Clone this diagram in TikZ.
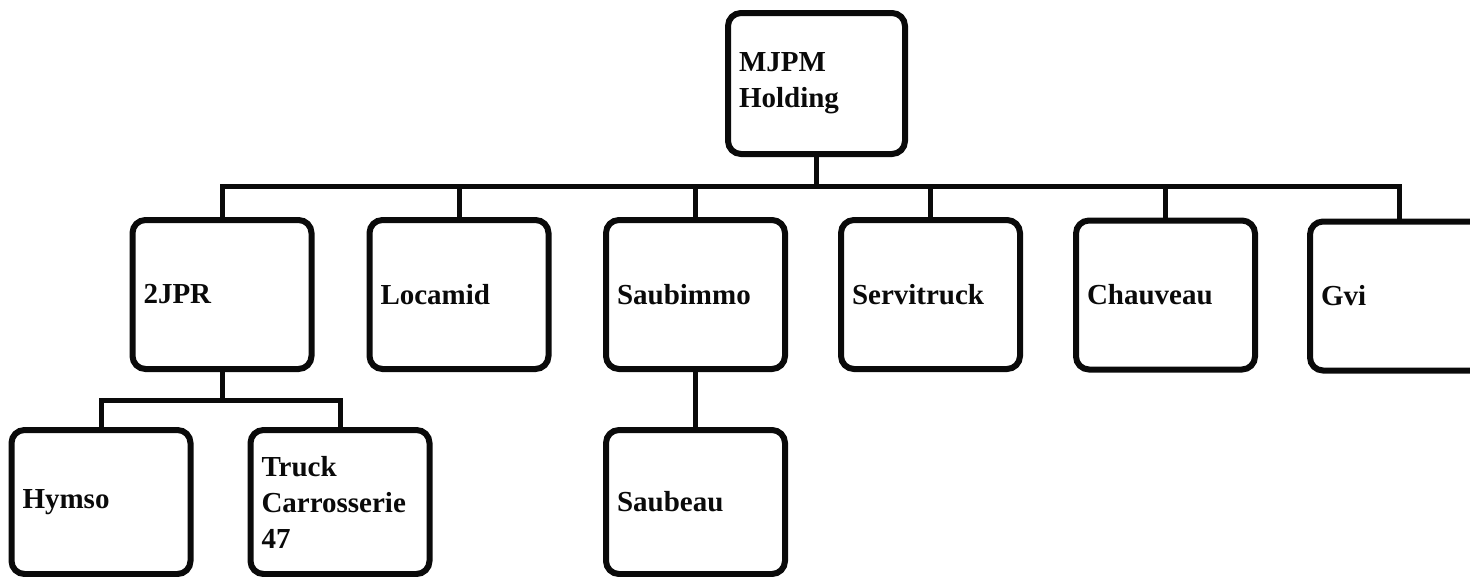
\documentclass[tikz,border=0pt]{standalone}
\usepackage{fontspec}
\setmainfont{Liberation Serif}[BoldFont={Liberation Serif Bold}]
\usetikzlibrary{calc}
\definecolor{ink}{HTML}{0A0A0A}
\newcommand{\unitfont}{\fontsize{29}{36}\selectfont\bfseries}

\begin{document}
\begin{tikzpicture}[x=1pt,y=-1pt,font=\unitfont,
  unitbox/.style={draw=ink,line width=6pt,rounded corners=13pt,align=left,
    text width=157pt,inner xsep=11pt,minimum height=149pt,text=ink,fill=white},
  link/.style={draw=ink,line width=5pt}]
\useasboundingbox (0,0) rectangle (1470,576);
\clip (0,0) rectangle (1470,576);
\coordinate (bus1) at (0,186);
\coordinate (bus2) at (0,400);
% top
\node[unitbox,text width=155pt,minimum height=141pt] (mjpm) at (816.5,83.5) {MJPM\\Holding};
% second row
\node[unitbox] (jpr) at (222,294.5) {2JPR};
\node[unitbox] (locamid) at (459,294.5) {Locamid};
\node[unitbox] (saubimmo) at (695.5,294.5) {Saubimmo};
\node[unitbox] (servitruck) at (930.5,294.5) {Servitruck};
\node[unitbox] (chauveau) at (1165.5,295) {Chauveau};
\node[unitbox] (gvi) at (1399.5,296) {Gvi};
% third row
\node[unitbox,minimum height=144pt] (hymso) at (101,502) {Hymso};
\node[unitbox,minimum height=144pt] (truck) at (340,502) {Truck\\Carrosserie\\47};
\node[unitbox,minimum height=144pt] (saubeau) at (695.5,502) {Saubeau};
% links
\foreach \kid in {jpr,locamid,saubimmo,servitruck,chauveau,gvi}
  \draw[link] (mjpm.south) -- (mjpm.south |- bus1) -| (\kid.north);
\foreach \kid in {hymso,truck}
  \draw[link] (jpr.south) -- (jpr.south |- bus2) -| (\kid.north);
\draw[link] (saubimmo.south) -- (saubeau.north);
\end{tikzpicture}
\end{document}
